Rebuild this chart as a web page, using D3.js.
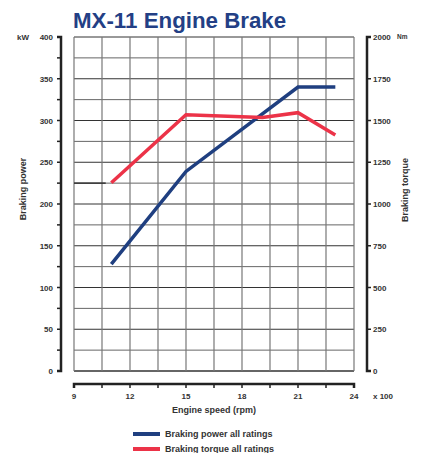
<!DOCTYPE html>
<html><head><meta charset="utf-8">
<script src="https://cdn.jsdelivr.net/npm/d3@7"></script>
<style>body{margin:0;background:#fff}text{font-family:"Liberation Sans",Arial,sans-serif}</style>
</head><body>
<script>
const speeds = [11, 15, 21, 23];
const powerKW = [128, 239, 340, 340];
const torqueSpeeds = [11, 15, 19.1, 21, 23];
const torqueNm = [1127, 1535, 1518, 1547, 1413];
const xTicks = [9, 12, 15, 18, 21, 24];
const kwTicks = [0, 50, 100, 150, 200, 250, 300, 350, 400];
const nmTicks = [0, 250, 500, 750, 1000, 1250, 1500, 1750, 2000];
const seriesNames = ["Braking power all ratings", "Braking torque all ratings"];
const colors = ["#1f3f80", "#ec3348"];

const W = 424, H = 453;
const svg = d3.select("body").append("svg").attr("width", W).attr("height", H);
const L = 74, R = 354, T = 37, B = 371;
const x = d3.scaleLinear().domain([9, 24]).range([L, R]);
const yK = d3.scaleLinear().domain([0, 400]).range([B, T]);
const yN = d3.scaleLinear().domain([0, 2000]).range([B, T]);

// title
svg.append("text").attr("x", 73).attr("y", 28).attr("font-size", 22.3).attr("font-weight", "bold")
  .attr("fill", "#233f85").text("MX-11 Engine Brake");

// grid
const g = svg.append("g");
d3.range(0, 401, 25).forEach(v => {
  g.append("line").attr("x1", L).attr("x2", R).attr("y1", yK(v)).attr("y2", yK(v))
    .attr("stroke", v % 50 === 0 ? "#333" : "#666").attr("stroke-width", v === 0 ? 1.5 : 1);
});
d3.range(9, 24.01, 1.5).forEach(v => {
  g.append("line").attr("x1", x(v)).attr("x2", x(v)).attr("y1", T).attr("y2", B)
    .attr("stroke", "#777").attr("stroke-width", 1.2);
});
// darker segment on 225 line
g.append("line").attr("x1", L).attr("x2", x(10.7)).attr("y1", yK(225)).attr("y2", yK(225))
  .attr("stroke", "#333").attr("stroke-width", 1.5);

// left axis
const ax = svg.append("g").attr("stroke", "#222");
ax.append("path").attr("d", `M57,${T}H61V${B}H57`).attr("fill", "none").attr("stroke-width", 2.5);
d3.range(0, 401, 25).forEach(v => {
  ax.append("line").attr("x1", 57).attr("x2", 61).attr("y1", yK(v)).attr("y2", yK(v)).attr("stroke-width", 1.5);
});
svg.selectAll(".kl").data(kwTicks).enter().append("text")
  .attr("x", 53).attr("y", d => yK(d) + 3).attr("text-anchor", "end")
  .attr("font-size", 8).attr("font-weight", "bold").attr("fill", "#333").text(d => d);
svg.append("text").attr("x", 17).attr("y", 40).attr("font-size", 8).attr("font-weight", "bold").attr("fill", "#333").text("kW");
svg.append("text").attr("transform", "translate(26,189) rotate(-90)").attr("text-anchor", "middle")
  .attr("font-size", 9).attr("font-weight", "bold").attr("fill", "#333").text("Braking power");

// right axis
ax.append("path").attr("d", `M371,${T}H367V${B}H371`).attr("fill", "none").attr("stroke-width", 2.5);
d3.range(0, 2001, 250).forEach(v => {
  ax.append("line").attr("x1", 367).attr("x2", 371).attr("y1", yN(v)).attr("y2", yN(v)).attr("stroke-width", 1.5);
});
svg.selectAll(".nl").data(nmTicks).enter().append("text")
  .attr("x", 373).attr("y", d => yN(d) + 3)
  .attr("font-size", 8).attr("font-weight", "bold").attr("fill", "#333").text(d => d);
svg.append("text").attr("x", 397).attr("y", 39).attr("font-size", 6.5).attr("font-weight", "bold").attr("fill", "#333").text("Nm");
svg.append("text").attr("transform", "translate(408,190) rotate(-90)").attr("text-anchor", "middle")
  .attr("font-size", 9).attr("font-weight", "bold").attr("fill", "#333").text("Braking torque");

// x axis
const XA = 384;
ax.append("path").attr("d", `M${L},${XA + 4}V${XA}H${R}V${XA + 4}`).attr("fill", "none").attr("stroke-width", 2.5);
d3.range(9, 24.01, 1.5).forEach(v => {
  ax.append("line").attr("x1", x(v)).attr("x2", x(v)).attr("y1", XA).attr("y2", XA + 4).attr("stroke-width", 1.5);
});
svg.selectAll(".xl").data(xTicks).enter().append("text")
  .attr("x", d => x(d)).attr("y", 399).attr("text-anchor", "middle")
  .attr("font-size", 8).attr("font-weight", "bold").attr("fill", "#333").text(d => d);
svg.append("text").attr("x", 373).attr("y", 399).attr("font-size", 8).attr("font-weight", "bold").attr("fill", "#333").text("x 100");
svg.append("text").attr("x", 214).attr("y", 413).attr("text-anchor", "middle")
  .attr("font-size", 9).attr("font-weight", "bold").attr("fill", "#333").text("Engine speed (rpm)");

// data lines
const lineK = d3.line().x(d => x(d[0])).y(d => yK(d[1]));
const lineN = d3.line().x(d => x(d[0])).y(d => yN(d[1]));
svg.append("path").attr("d", lineK(speeds.map((s, i) => [s, powerKW[i]])))
  .attr("fill", "none").attr("stroke", colors[0]).attr("stroke-width", 3.5);
svg.append("path").attr("d", lineN(torqueSpeeds.map((s, i) => [s, torqueNm[i]])))
  .attr("fill", "none").attr("stroke", colors[1]).attr("stroke-width", 3.5);

// legend
seriesNames.forEach((n, i) => {
  const yy = 434 + i * 15;
  svg.append("line").attr("x1", 133).attr("x2", 160).attr("y1", yy).attr("y2", yy)
    .attr("stroke", colors[i]).attr("stroke-width", 4);
  svg.append("text").attr("x", 165).attr("y", yy + 3).attr("font-size", 9).attr("font-weight", "bold")
    .attr("fill", "#333").text(n);
});
</script>
</body></html>
